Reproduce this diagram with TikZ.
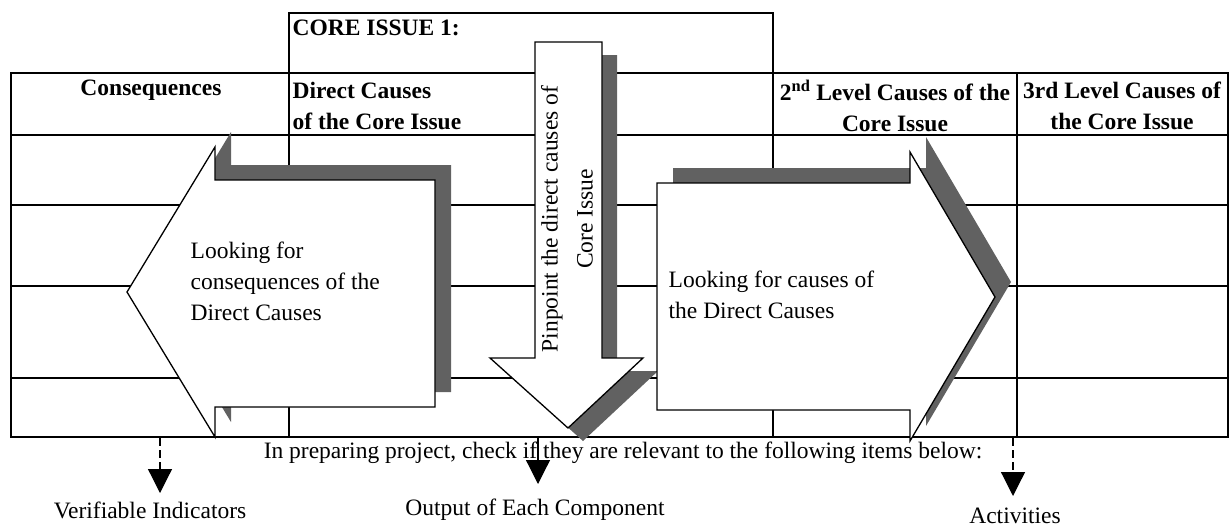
\documentclass[tikz,border=0pt]{standalone}
\usepackage{fontspec}
\setmainfont{Liberation Serif}
\usetikzlibrary{arrows.meta}
\begin{document}
\begin{tikzpicture}[x=1pt,y=-1pt,line width=1.3pt,line join=miter,
  shadowfill/.style={fill=black!62,draw=none},
  bodyfill/.style={fill=white,draw=black,line width=1.3pt},
  txt/.style={font=\fontsize{23.5}{31}\selectfont,inner sep=0pt},
  hdr/.style={font=\fontsize{23.5}{31}\selectfont\bfseries,inner sep=0pt,align=center},
  pointer/.style={-{Triangle[width=24pt,length=24pt]},line width=1.2pt},
  dashedpointer/.style={pointer,dash pattern=on 8pt off 4pt},
  larrow/.style={insert path={(127,292) -- (215,147) -- (215,180) -- (435,180) -- (435,407) -- (215,407) -- (215,437) -- cycle}},
  rarrow/.style={insert path={(657,183) -- (910,183) -- (910,152) -- (995,297) -- (910,441) -- (910,410) -- (657,410) -- cycle}},
  darrow/.style={insert path={(535,42) -- (602,42) -- (602,358) -- (643,358) -- (568,428) -- (490,358) -- (535,358) -- cycle}}
]
\useasboundingbox (0,0) rectangle (1231,528);

% table
\draw (11,73) rectangle (1228,437);
\draw (289,437) -- (289,13) -- (773,13) -- (773,437);
\draw (1017,73) -- (1017,437);
\foreach \y in {135,205,286,378} \draw (11,\y) -- (1228,\y);

% left arrow
\path[shadowfill,shift={(16,-15)},larrow];
\path[bodyfill,larrow];
% down arrow
\path[shadowfill,shift={(15,13)},darrow];
\path[bodyfill,darrow];
% right arrow
\path[shadowfill,shift={(16,-15)},rarrow];
\path[bodyfill,rarrow];

% header texts
\node[hdr,anchor=west] (core) at (292,28) {CORE ISSUE 1:};
\node[hdr] (cons) at (151,90) {Consequences};
\node[hdr,align=left,anchor=west] (direct) at (292,106) {Direct Causes\\of the Core Issue};
\node[hdr] (lvl2) at (895,106) {2\textsuperscript{nd} Level Causes of the\\Core Issue};
\node[hdr] (lvl3) at (1122,106) {3rd Level Causes of\\the Core Issue};

% arrow texts
\node[txt,align=left,anchor=west] (lcons) at (190,281) {Looking for\\consequences of the\\Direct Causes};
\node[txt,align=left,anchor=west] (lcaus) at (668,295) {Looking for causes of\\the Direct Causes};
\node[txt,rotate=90,align=center,font=\fontsize{23.5}{35}\selectfont] (pin) at (567,219) {Pinpoint the direct causes of\\Core Issue};

% bottom
\node[txt] (prep) at (623,453) {In preparing project, check if they are relevant to the following items below:};
\node[txt] (vi) at (150,510) {Verifiable Indicators};
\node[txt] (oec) at (535,510) {Output of Each Component};
\node[txt] (act) at (1015,516) {Activities};

\coordinate (a1s) at (160,438);
\coordinate (a1e) at (160,493);
\coordinate (a2s) at (538,438);
\coordinate (a2e) at (538,484);
\coordinate (a3s) at (1013,438);
\coordinate (a3e) at (1013,496);
\draw[dashedpointer] (a1s) -- (a1e);
\draw[pointer] (a2s) -- (a2e);
\draw[dashedpointer] (a3s) -- (a3e);
\end{tikzpicture}
\end{document}
